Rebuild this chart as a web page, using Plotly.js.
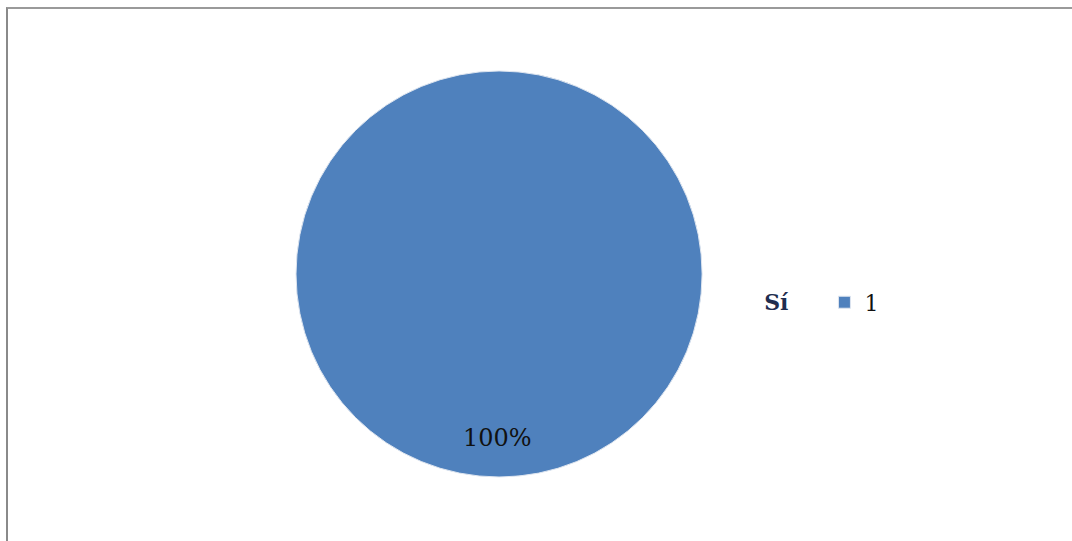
<!DOCTYPE html>
<html>
<head>
<meta charset="utf-8">
<script src="https://cdn.plot.ly/plotly-3.0.1.min.js"></script>
<style>
html,body{margin:0;padding:0;background:#fff;}
#frame{position:absolute;left:0;top:0;width:1072px;height:541px;overflow:hidden;}
#edge{position:absolute;left:6px;top:7px;width:1080px;height:560px;border-top:2px solid #9a9a9a;border-left:2px solid #8a8a8a;box-sizing:border-box;}
#chart{position:absolute;left:0;top:0;width:1072px;height:541px;}
</style>
</head>
<body>
<div id="frame">
<div id="edge"></div>
<div id="chart"></div>
</div>
<script>
var legendTitle = "Sí";
var categories = ["1"];
var values = [1];
var colors = ["#4F81BD"];

var total = values.reduce(function(a,b){return a+b;},0);
var pctLabels = values.map(function(v){return Math.round(v/total*100) + "%";});

var trace = {
  type: "pie",
  labels: categories,
  values: values,
  marker: {colors: colors, line: {color: "#dfe6f0", width: 1}},
  textinfo: "none",
  sort: false,
  direction: "clockwise",
  domain: {x: [0.2757, 0.6553], y: [0.1183, 0.8688]},
  hoverinfo: "label+percent"
};

var layout = {
  width: 1072,
  height: 541,
  margin: {l: 0, r: 0, t: 0, b: 0},
  paper_bgcolor: "rgba(0,0,0,0)",
  plot_bgcolor: "rgba(0,0,0,0)",
  showlegend: true,
  legend: {
    x: 0.711, y: 0.441, xanchor: "left", yanchor: "middle",
    bgcolor: "rgba(0,0,0,0)",
    font: {family: "DejaVu Serif", size: 22, color: "#111"},
    title: {text: "<b>" + legendTitle + "</b>&nbsp;&nbsp;&nbsp;&nbsp;", side: "left", font: {family: "DejaVu Serif", size: 22, color: "#1F2D4F"}}
  },
  annotations: [{
    xref: "paper", yref: "paper",
    x: 0.4645, y: 0.161,
    text: pctLabels[0],
    showarrow: false,
    font: {family: "DejaVu Serif", size: 24, color: "#111"}
  }]
};

Plotly.newPlot("chart", [trace], layout, {staticPlot: true, displayModeBar: false});
</script>
</body>
</html>
